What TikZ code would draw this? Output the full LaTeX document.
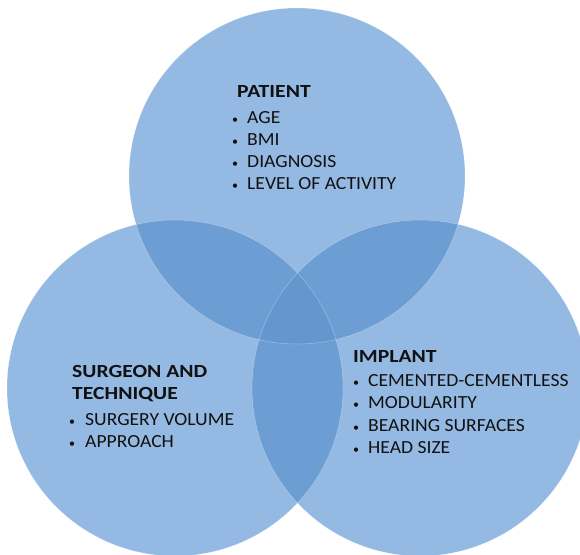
\documentclass[tikz,border=0pt]{standalone}
\usepackage{fontspec}
\setmainfont{Carlito}
\newfontfamily\itemfont{Carlito}[FakeStretch=1.06]
\newfontfamily\headfont{Carlito}[FakeStretch=1.17]
\definecolor{vsingle}{HTML}{94B9E2}
\definecolor{vpair}{HTML}{6C9DD3}
\definecolor{vtriple}{HTML}{6597CF}
\definecolor{vtext}{HTML}{111111}
\begin{document}
\begin{tikzpicture}[x=1pt,y=-1pt,
  heading/.style={anchor=base west,inner sep=0pt,text=vtext,font=\headfont\fontsize{18.5}{20}\selectfont\bfseries},
  item/.style={anchor=base west,inner sep=0pt,text=vtext,font=\itemfont\fontsize{18.5}{20}\selectfont},
  dot/.style={anchor=base west,inner sep=0pt,text=vtext,font=\fontsize{12}{14}\selectfont},
  rim/.style={draw=white,draw opacity=0.35,line width=0.5pt}]
\useasboundingbox (0,0) rectangle (580,554);
\clip (0,0) rectangle (580,554);
\def\R{168}
\coordinate (T) at (297,176);
\coordinate (L) at (175,388);
\coordinate (Rt) at (420,388);
% single discs
\fill[vsingle] (T) circle [radius=\R];
\fill[vsingle] (L) circle [radius=\R];
\fill[vsingle] (Rt) circle [radius=\R];
% pairwise lenses
\begin{scope}
  \clip (T) circle [radius=\R];
  \fill[vpair] (L) circle [radius=\R];
  \fill[vpair] (Rt) circle [radius=\R];
\end{scope}
\begin{scope}
  \clip (L) circle [radius=\R];
  \fill[vpair] (Rt) circle [radius=\R];
\end{scope}
% central region
\begin{scope}
  \clip (T) circle [radius=\R];
  \clip (L) circle [radius=\R];
  \fill[vtriple] (Rt) circle [radius=\R];
\end{scope}
% faint rims
\draw[rim] (T) circle [radius=\R];
\draw[rim] (L) circle [radius=\R];
\draw[rim] (Rt) circle [radius=\R];

% patient
\node[heading] (pt) at (237,97) {PATIENT};
\node[dot] (pb1) at (232,123) {•};
\node[item] (p1) at (247,123) {AGE};
\node[dot] (pb2) at (232,145) {•};
\node[item] (p2) at (247,145) {BMI};
\node[dot] (pb3) at (232,167) {•};
\node[item] (p3) at (247,167) {DIAGNOSIS};
\node[dot] (pb4) at (232,189) {•};
\node[item] (p4) at (247,189) {LEVEL OF ACTIVITY};

% surgeon and technique
\node[heading] (st1) at (72,377) {SURGEON AND};
\node[heading] (st2) at (72,399) {TECHNIQUE};
\node[dot] (sb1) at (69,425) {•};
\node[item] (s1) at (85,425) {SURGERY VOLUME};
\node[dot] (sb2) at (69,447) {•};
\node[item] (s2) at (85,447) {APPROACH};

% implant
\node[heading] (im) at (353,362) {IMPLANT};
\node[dot] (ib1) at (353,386) {•};
\node[item] (i1) at (368,386) {CEMENTED-CEMENTLESS};
\node[dot] (ib2) at (353,408) {•};
\node[item] (i2) at (368,408) {MODULARITY};
\node[dot] (ib3) at (353,431) {•};
\node[item] (i3) at (368,431) {BEARING SURFACES};
\node[dot] (ib4) at (353,453) {•};
\node[item] (i4) at (368,453) {HEAD SIZE};
\end{tikzpicture}
\end{document}
